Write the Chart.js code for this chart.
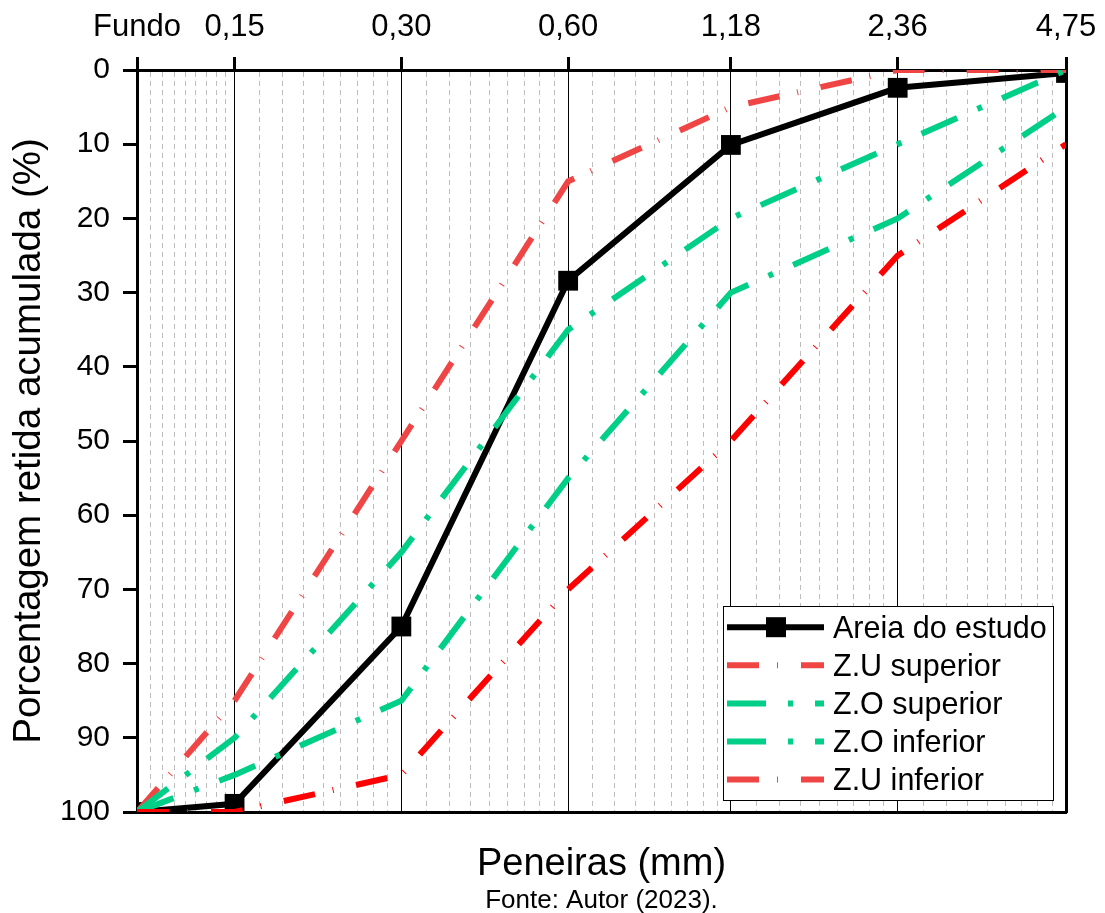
<!DOCTYPE html>
<html>
<head>
<meta charset="utf-8">
<script src="https://cdn.jsdelivr.net/npm/chart.js@4.4.1/dist/chart.umd.min.js"></script>
<style>
  html, body { margin: 0; padding: 0; background: #fff; }
  #wrap { width: 1105px; height: 913px; position: relative; }
</style>
</head>
<body>
<div id="wrap"><canvas id="granulometria"></canvas></div>
<script>
// Peneiras (mm) - o "Fundo" fica em 0,1 na escala log
const sieves = [0.1, 0.15, 0.3, 0.6, 1.18, 2.36, 4.75];
const sieveLabels = ["Fundo", "0,15", "0,30", "0,60", "1,18", "2,36", "4,75"];

// Porcentagem retida acumulada (%)
const areia = [100, 98.9, 75, 28.4, 10.1, 2.4, 0.4];
const zuSuperior = [100, 85, 50, 15, 5, 0, 0];
const zoSuperior = [100, 90, 65, 35, 20, 10, 0];
const zoInferior = [100, 95, 85, 55, 30, 20, 5];
const zuInferior = [100, 100, 95, 70, 50, 25, 10];

const FONT = "'Liberation Sans', Arial, Helvetica, sans-serif";
Chart.defaults.font.family = FONT;
Chart.defaults.color = "#000";

const RED_LIGHT = "#f04545";
const RED = "#ff0000";
const GREEN = "#00cf88";

function points(values) {
  return sieves.map((s, i) => ({ x: s, y: values[i] }));
}

// major ticks at the sieves, 8 minor ticks between each pair
const majorSet = new Set(sieves);
const labelMap = new Map(sieves.map((s, i) => [s, sieveLabels[i]]));
function buildXTicks(scale) {
  const ticks = [];
  for (let i = 0; i < sieves.length; i++) {
    ticks.push({ value: sieves[i], major: true });
    if (i < sieves.length - 1) {
      const a = sieves[i], b = sieves[i + 1];
      for (let k = 1; k <= 8; k++) ticks.push({ value: a + (b - a) * k / 9, major: false });
    }
  }
  scale.ticks = ticks;
}
const isMajor = (ctx) => ctx.tick && majorSet.has(ctx.tick.value);

// legend box inside the plot, bottom right
const legendBox = {
  id: "legendBox",
  afterDatasetsDraw(chart) {
    const { ctx, chartArea } = chart;
    const left = chartArea.right - 343, top = chartArea.bottom - 206;
    ctx.save();
    ctx.fillStyle = "#fff";
    ctx.fillRect(left, top, 330, 194);
    ctx.setLineDash([]);
    ctx.strokeStyle = "#000";
    ctx.lineWidth = 1;
    ctx.strokeRect(left + 0.5, top + 0.5, 330, 194);
    ctx.font = "30.5px " + FONT;
    ctx.textBaseline = "alphabetic";
    chart.data.datasets.forEach((ds, i) => {
      const base = top + 31.5 + i * 38.1;
      const y = base - 10.3;
      ctx.beginPath();
      ctx.setLineDash(ds.borderDash || []);
      ctx.lineDashOffset = 0;
      ctx.strokeStyle = ds.legendColor || ds.borderColor;
      ctx.lineWidth = ds.borderWidth;
      ctx.moveTo(left + 4, y);
      ctx.lineTo(left + 101, y);
      ctx.stroke();
      ctx.setLineDash([]);
      if (ds.pointRadius) {
        ctx.fillStyle = ds.pointBackgroundColor;
        ctx.fillRect(left + 43, y - 10, 20, 20);
      }
      ctx.fillStyle = "#000";
      ctx.fillText(ds.label, left + 110, base);
    });
    ctx.restore();
  }
};

// source note under the axis title
const sourceNote = {
  id: "sourceNote",
  afterDraw(chart) {
    const { ctx, chartArea } = chart;
    ctx.save();
    ctx.font = "26px " + FONT;
    ctx.fillStyle = "#000";
    ctx.textAlign = "center";
    ctx.textBaseline = "alphabetic";
    ctx.fillText("Fonte: Autor (2023).", (chartArea.left + chartArea.right) / 2, 907.5);
    ctx.restore();
  }
};

new Chart(document.getElementById("granulometria").getContext("2d"), {
  type: "line",
  data: {
    datasets: [
      {
        label: "Areia do estudo",
        data: points(areia),
        borderColor: "#000",
        borderWidth: 6,
        pointStyle: "rect",
        pointRadius: 14,
        pointBorderWidth: 0,
        pointBackgroundColor: "#000",
        order: 5,
      },
      {
        label: "Z.U superior",
        data: points(zuSuperior),
        borderColor: RED_LIGHT,
        borderWidth: 6,
        borderDash: [32, 18, 1, 23],
        pointRadius: 0,
        order: 4,
      },
      {
        label: "Z.O superior",
        data: points(zoSuperior),
        borderColor: GREEN,
        borderWidth: 6,
        borderDash: [39, 22, 5, 22],
        pointRadius: 0,
        order: 3,
      },
      {
        label: "Z.O inferior",
        data: points(zoInferior),
        borderColor: GREEN,
        borderWidth: 6,
        borderDash: [39, 22, 5, 22],
        pointRadius: 0,
        order: 2,
      },
      {
        label: "Z.U inferior",
        data: points(zuInferior),
        borderColor: RED,
        legendColor: RED_LIGHT,
        borderWidth: 6,
        borderDash: [32, 18, 1, 23],
        pointRadius: 0,
        order: 1,
      },
    ],
  },
  options: {
    responsive: true,
    maintainAspectRatio: false,
    animation: false,
    layout: { padding: 0 },
    elements: { line: { tension: 0, borderCapStyle: "butt" } },
    datasets: { line: { clip: 0 } },
    plugins: {
      legend: { display: false },
      tooltip: { enabled: false },
    },
    scales: {
      x: {
        type: "logarithmic",
        position: "top",
        min: 0.1,
        max: 4.75,
        afterBuildTicks: buildXTicks,
        afterFit: (s) => { s.height = 70; s.paddingLeft = 0; s.paddingRight = 0; },
        ticks: {
          autoSkip: false,
          maxRotation: 0,
          minRotation: 0,
          padding: 11,
          font: { size: 31 },
          callback: (v) => labelMap.get(v) || "",
        },
        grid: {
          color: (ctx) => (isMajor(ctx) ? "#000" : "#bdbdbd"),
          lineWidth: 1,
          drawTicks: true,
          tickLength: 13,
          tickWidth: 3,
          tickColor: (ctx) => (isMajor(ctx) ? "#000" : "rgba(0,0,0,0)"),
        },
        border: {
          display: true,
          color: "#000",
          width: 3,
          dash: (ctx) => (ctx.tick && !majorSet.has(ctx.tick.value) ? [5, 4] : []),
        },
      },
      x2: {
        type: "linear",
        position: "bottom",
        display: true,
        min: 0,
        max: 1,
        afterFit: (s) => { s.height = 101; s.paddingLeft = 0; s.paddingRight = 0; },
        ticks: { display: false },
        grid: { drawOnChartArea: false, drawTicks: false },
        border: { display: true, color: "#000", width: 3 },
        title: {
          display: true,
          text: "Peneiras (mm)",
          font: { size: 38 },
          padding: { top: 0, bottom: 26 },
        },
      },
      y: {
        reverse: true,
        min: 0,
        max: 100,
        afterFit: (s) => { s.width = 137; },
        ticks: { stepSize: 10, padding: 13, font: { size: 30 } },
        grid: {
          drawOnChartArea: false,
          drawTicks: true,
          tickLength: 14,
          tickWidth: 3,
          tickColor: "#000",
        },
        border: { display: true, color: "#000", width: 3 },
        title: {
          display: true,
          text: "Porcentagem retida acumulada (%)",
          font: { size: 38.5 },
          padding: { top: 6, bottom: 0 },
        },
      },
      y2: {
        type: "linear",
        position: "right",
        display: true,
        min: 0,
        max: 1,
        afterFit: (s) => { s.width = 39; },
        ticks: { display: false },
        grid: { drawOnChartArea: false, drawTicks: false },
        border: { display: true, color: "#000", width: 3 },
      },
    },
  },
  plugins: [legendBox, sourceNote],
});
</script>
</body>
</html>
